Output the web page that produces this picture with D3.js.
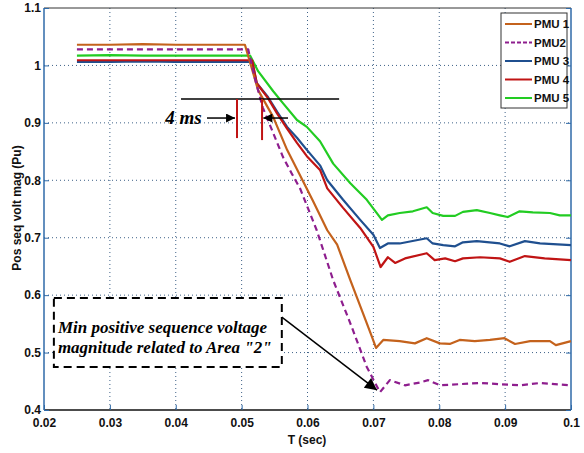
<!DOCTYPE html>
<html>
<head>
<meta charset="utf-8">
<script src="https://cdn.jsdelivr.net/npm/d3@7"></script>
<style>
  html, body { margin: 0; padding: 0; background: #fff; }
  svg { display: block; }
</style>
</head>
<body>
<svg id="chart" width="584" height="453"></svg>
<script>
// ---------- data ----------
const xTicks = [0.02, 0.03, 0.04, 0.05, 0.06, 0.07, 0.08, 0.09, 0.1];
const yTicks = [0.4, 0.5, 0.6, 0.7, 0.8, 0.9, 1.0, 1.1];
const xTickLabels = ["0.02","0.03","0.04","0.05","0.06","0.07","0.08","0.09","0.1"];
const yTickLabels = ["0.4","0.5","0.6","0.7","0.8","0.9","1","1.1"];

const seriesNames = ["PMU 1", "PMU2", "PMU 3", "PMU 4", "PMU 5"];

const pmu1T = [0.025,0.03,0.035,0.04,0.045,0.0505,0.0525,0.0548,0.0569,0.0589,0.0608,0.063,0.0645,0.0665,0.0684,0.0698,0.0704,0.0715,0.074,0.0763,0.0781,0.0801,0.0816,0.0831,0.0854,0.0877,0.0899,0.0915,0.0938,0.0968,0.0977,0.1];
const pmu1V = [1.036,1.036,1.037,1.036,1.036,1.036,0.957,0.910,0.853,0.808,0.765,0.713,0.688,0.626,0.569,0.527,0.508,0.522,0.520,0.516,0.525,0.516,0.515,0.522,0.520,0.522,0.525,0.515,0.520,0.520,0.513,0.520];

const pmu2T = [0.025,0.03,0.035,0.04,0.045,0.051,0.052,0.0532,0.0548,0.0563,0.0576,0.0589,0.0614,0.0639,0.0665,0.069,0.071,0.0725,0.0748,0.0771,0.0783,0.0801,0.0831,0.0862,0.0892,0.0922,0.0953,0.1];
const pmu2V = [1.028,1.028,1.028,1.028,1.028,1.028,0.978,0.927,0.882,0.840,0.812,0.785,0.713,0.626,0.551,0.475,0.431,0.452,0.443,0.448,0.452,0.443,0.445,0.447,0.445,0.443,0.447,0.443];

const pmu3T = [0.025,0.03,0.035,0.04,0.045,0.0516,0.0523,0.054,0.0554,0.0569,0.0584,0.0599,0.0619,0.063,0.0654,0.068,0.07,0.071,0.0722,0.074,0.0781,0.079,0.0806,0.0824,0.0836,0.0857,0.0892,0.0907,0.093,0.0953,0.1];
const pmu3V = [1.006,1.006,1.007,1.006,1.006,1.006,0.969,0.945,0.919,0.893,0.874,0.853,0.826,0.800,0.766,0.731,0.705,0.682,0.690,0.690,0.699,0.690,0.687,0.685,0.692,0.694,0.690,0.685,0.694,0.690,0.687];

const pmu4T = [0.025,0.03,0.035,0.04,0.045,0.0516,0.0523,0.054,0.0554,0.0569,0.0584,0.0599,0.0619,0.063,0.0654,0.068,0.07,0.0711,0.0722,0.0733,0.0748,0.0781,0.0793,0.0809,0.0824,0.0836,0.0862,0.0892,0.0907,0.093,0.096,0.1];
const pmu4V = [1.009,1.009,1.009,1.009,1.009,1.009,0.969,0.943,0.916,0.890,0.865,0.842,0.818,0.786,0.752,0.717,0.684,0.649,0.666,0.656,0.664,0.673,0.661,0.664,0.659,0.664,0.666,0.664,0.658,0.668,0.664,0.661];

const pmu5T = [0.025,0.03,0.035,0.04,0.045,0.0513,0.0525,0.0548,0.0563,0.0584,0.0599,0.0619,0.0639,0.0665,0.069,0.0713,0.0722,0.074,0.076,0.0781,0.079,0.0806,0.0824,0.0836,0.0857,0.0877,0.0892,0.0904,0.0922,0.0942,0.0968,0.0983,0.1];
const pmu5V = [1.017,1.018,1.017,1.017,1.017,1.017,0.990,0.955,0.934,0.905,0.893,0.868,0.829,0.795,0.766,0.731,0.739,0.743,0.746,0.753,0.743,0.738,0.738,0.745,0.748,0.743,0.739,0.736,0.746,0.744,0.743,0.739,0.739];

// annotations (data units)
const markerLineT = [0.0408, 0.0648];
const markerLineV = 0.9415;
const redMarkT = [0.0493, 0.0531];
const redMarkBottomV = [0.8735, 0.870];
const arrowV = 0.9084;
const noteBoxT = [0.0215, 0.0561];
const noteBoxV = [0.595, 0.475];

// ---------- layout ----------
const svg = d3.select("#chart");
const pL = 44, pR = 571, pT = 8, pB = 410;
const x = d3.scaleLinear().domain([0.02, 0.1]).range([pL, pR]);
const y = d3.scaleLinear().domain([0.4, 1.1]).range([pB, pT]);

const defs = svg.append("defs");
defs.append("marker").attr("id", "ah").attr("viewBox", "0 0 10 10")
  .attr("refX", 10).attr("refY", 5).attr("markerWidth", 10).attr("markerHeight", 9)
  .attr("markerUnits", "userSpaceOnUse").attr("orient", "auto")
  .append("path").attr("d", "M0,0 L10,5 L0,10 Z").attr("fill", "#000");
defs.append("marker").attr("id", "ahBig").attr("viewBox", "0 0 10 10")
  .attr("refX", 10).attr("refY", 5).attr("markerWidth", 14).attr("markerHeight", 12)
  .attr("markerUnits", "userSpaceOnUse").attr("orient", "auto")
  .append("path").attr("d", "M0,0 L10,5 L0,10 Z").attr("fill", "#000");

// grid
const grid = svg.append("g");
grid.selectAll(".gx").data(xTicks.slice(1, -1)).enter().append("line")
  .attr("x1", d => x(d)).attr("x2", d => x(d)).attr("y1", pT).attr("y2", pB)
  .attr("stroke", "#3f6288").attr("stroke-width", 1).attr("stroke-dasharray", "1,3");
grid.selectAll(".gy").data(yTicks.slice(1, -1)).enter().append("line")
  .attr("y1", d => y(d)).attr("y2", d => y(d)).attr("x1", pL).attr("x2", pR)
  .attr("stroke", "#3f6288").attr("stroke-width", 1).attr("stroke-dasharray", "1,3");

// frame
svg.append("line").attr("x1", pL).attr("x2", pR).attr("y1", pT).attr("y2", pT).attr("stroke", "#333").attr("stroke-width", 1);
svg.append("line").attr("x1", pL).attr("x2", pR).attr("y1", pB).attr("y2", pB).attr("stroke", "#111").attr("stroke-width", 1.5);
svg.append("line").attr("x1", pL).attr("x2", pL).attr("y1", pT).attr("y2", pB).attr("stroke", "#2f6aa8").attr("stroke-width", 1.5);
svg.append("line").attr("x1", pR).attr("x2", pR).attr("y1", pT).attr("y2", pB).attr("stroke", "#2f6aa8").attr("stroke-width", 1.5);

// axes
const font = "'Liberation Sans Narrow','Liberation Sans',Arial,sans-serif";
const xAxis = d3.axisBottom(x).tickValues(xTicks).tickFormat((d, i) => xTickLabels[i]).tickSize(-5).tickPadding(8);
const gx = svg.append("g").attr("transform", `translate(0,${pB})`).call(xAxis);
gx.select(".domain").remove();
gx.selectAll(".tick line").attr("stroke", "#2f6aa8");
gx.selectAll("text").attr("font-family", font).attr("font-size", 12).attr("font-weight", "bold").attr("fill", "#111");

const yAxis = d3.axisLeft(y).tickValues(yTicks).tickFormat((d, i) => yTickLabels[i]).tickSize(-5).tickPadding(3);
const gy = svg.append("g").attr("transform", `translate(${pL},0)`).call(yAxis);
gy.select(".domain").remove();
gy.selectAll(".tick line").attr("stroke", "#2f6aa8");
gy.selectAll("text").attr("font-family", font).attr("font-size", 12).attr("font-weight", "bold").attr("fill", "#111");

const yAxisR = d3.axisRight(y).tickValues(yTicks).tickFormat("").tickSize(-5);
const gyr = svg.append("g").attr("transform", `translate(${pR},0)`).call(yAxisR);
gyr.select(".domain").remove();
gyr.selectAll(".tick line").attr("stroke", "#2f6aa8");

svg.append("text").attr("x", 307).attr("y", 444).attr("text-anchor", "middle")
  .attr("font-family", font).attr("font-size", 12).attr("font-weight", "bold").attr("fill", "#111").text("T (sec)");
svg.append("text").attr("transform", `translate(21,208) rotate(-90)`).attr("text-anchor", "middle")
  .attr("font-family", font).attr("font-size", 12).attr("font-weight", "bold").attr("fill", "#111").text("Pos seq volt mag (Pu)");

// series
const series = [
  { name: seriesNames[0], t: pmu1T, v: pmu1V, color: "#c4621c", dash: null },
  { name: seriesNames[1], t: pmu2T, v: pmu2V, color: "#8e1e8e", dash: "6,4" },
  { name: seriesNames[2], t: pmu3T, v: pmu3V, color: "#1f4f8f", dash: null },
  { name: seriesNames[3], t: pmu4T, v: pmu4V, color: "#c01414", dash: null },
  { name: seriesNames[4], t: pmu5T, v: pmu5V, color: "#22cc22", dash: null }
];
const line = d3.line().x(d => x(d[0])).y(d => y(d[1]));
const drawOrder = [4, 2, 3, 0, 1];
drawOrder.forEach(i => {
  const s = series[i];
  svg.append("path").datum(s.t.map((t, k) => [t, s.v[k]]))
    .attr("d", line).attr("fill", "none").attr("stroke", s.color).attr("stroke-width", 2.2)
    .attr("stroke-linejoin", "round")
    .attr("stroke-dasharray", s.dash);
});

// annotations
svg.append("line").attr("x1", x(markerLineT[0])).attr("x2", x(markerLineT[1]))
  .attr("y1", y(markerLineV)).attr("y2", y(markerLineV)).attr("stroke", "#000").attr("stroke-width", 1.5);
redMarkT.forEach((t, i) => {
  svg.append("line").attr("x1", x(t)).attr("x2", x(t)).attr("y1", y(markerLineV)).attr("y2", y(redMarkBottomV[i]))
    .attr("stroke", "#c01414").attr("stroke-width", 2);
});
svg.append("line").attr("x1", x(0.04474)).attr("x2", x(0.0490)).attr("y1", y(arrowV)).attr("y2", y(arrowV))
  .attr("stroke", "#000").attr("stroke-width", 1.5).attr("marker-end", "url(#ah)");
svg.append("line").attr("x1", x(0.05704)).attr("x2", x(0.0533)).attr("y1", y(arrowV)).attr("y2", y(arrowV))
  .attr("stroke", "#000").attr("stroke-width", 1.5).attr("marker-end", "url(#ah)");
svg.append("text").attr("x", x(0.0384)).attr("y", y(arrowV) + 6)
  .attr("font-family", "'Liberation Serif','Times New Roman',serif").attr("font-size", 19)
  .attr("font-weight", "bold").attr("font-style", "italic").attr("fill", "#000").text("4 ms");

// note box
svg.append("rect").attr("x", x(noteBoxT[0])).attr("y", y(noteBoxV[0]))
  .attr("width", x(noteBoxT[1]) - x(noteBoxT[0])).attr("height", y(noteBoxV[1]) - y(noteBoxV[0]))
  .attr("fill", "#fff").attr("stroke", "#000").attr("stroke-width", 2).attr("stroke-dasharray", "8,5");
const noteFont = "'Liberation Serif','Times New Roman',serif";
[["Min positive sequence voltage", 0.5335], ["magnitude related to Area \"2\"", 0.4985]].forEach(([txt, v]) => {
  svg.append("text").attr("x", x(noteBoxT[0]) + 4).attr("y", y(v))
    .attr("font-family", noteFont).attr("font-size", 17).attr("font-weight", "bold").attr("font-style", "italic")
    .attr("fill", "#000").text(txt);
});
svg.append("line").attr("x1", x(noteBoxT[1])).attr("y1", y(0.5617)).attr("x2", x(0.07055)).attr("y2", y(0.4345))
  .attr("stroke", "#000").attr("stroke-width", 1.5).attr("marker-end", "url(#ahBig)");

// legend
const lg = svg.append("g");
lg.append("rect").attr("x", 501).attr("y", 13).attr("width", 66).attr("height", 95)
  .attr("fill", "#fff").attr("stroke", "#333").attr("stroke-width", 1);
series.forEach((s, i) => {
  const yy = 24 + i * 18.5;
  lg.append("line").attr("x1", 505).attr("x2", 532).attr("y1", yy).attr("y2", yy)
    .attr("stroke", s.color).attr("stroke-width", 2).attr("stroke-dasharray", s.dash ? "4,2" : null);
  lg.append("text").attr("x", 534).attr("y", yy + 4).attr("font-family", font).attr("font-size", 11.5)
    .attr("font-weight", "bold").attr("fill", "#111").text(s.name);
});
</script>
</body>
</html>
